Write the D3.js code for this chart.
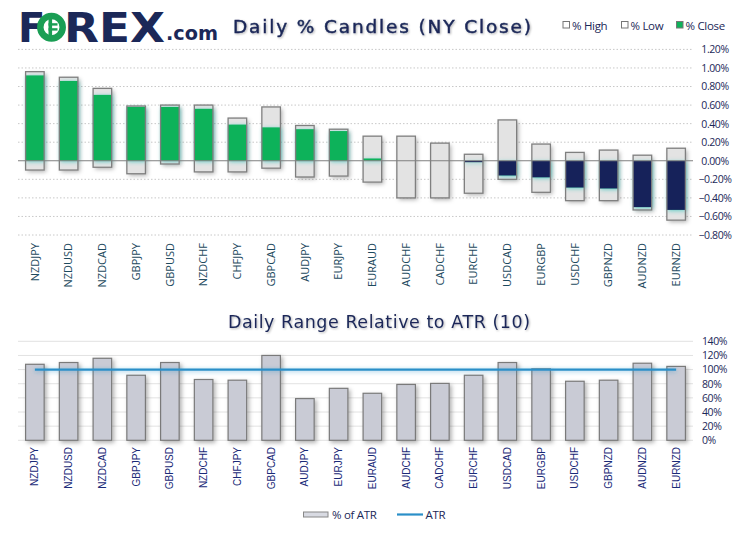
<!DOCTYPE html>
<html><head><meta charset="utf-8">
<script src="https://cdn.jsdelivr.net/npm/d3@7"></script>
<style>body{margin:0;background:#fff}svg{display:block}</style>
</head><body><svg id="c" width="749" height="534"></svg>
<script>
const categories = ["NZDJPY","NZDUSD","NZDCAD","GBPJPY","GBPUSD","NZDCHF","CHFJPY","GBPCAD","AUDJPY","EURJPY","EURAUD","AUDCHF","CADCHF","EURCHF","USDCAD","EURGBP","USDCHF","GBPNZD","AUDNZD","EURNZD"];
const highPct  = [0.96,0.90,0.78,0.59,0.60,0.60,0.46,0.58,0.38,0.34,0.265,0.265,0.19,0.07,0.44,0.18,0.09,0.115,0.06,0.135];
const lowPct   = [-0.10,-0.10,-0.07,-0.14,-0.035,-0.12,-0.12,-0.08,-0.175,-0.165,-0.23,-0.40,-0.40,-0.35,-0.20,-0.34,-0.43,-0.43,-0.53,-0.64];
const closePct = [0.92,0.86,0.71,0.58,0.58,0.56,0.39,0.36,0.34,0.32,0.025,0,0,-0.015,-0.16,-0.18,-0.29,-0.30,-0.50,-0.53];
const atrPct   = [107.5,110,116,92,110,86,85,120,59,73.5,66.5,79,80.5,92,110,101,83.5,85,109,104.5];
const atrLine  = [100,100,100,100,100,100,100,100,100,100,100,100,100,100,100,100,100,100,100,100];
const topTicks = [1.2,1.0,0.8,0.6,0.4,0.2,0,-0.2,-0.4,-0.6,-0.8];
const botTicks = [140,120,100,80,60,40,20,0];

const NAVY="#1b2858", GREEN="#0fb25a", DNAVY="#13205a";
const svg=d3.select("#c");
const defs=svg.append("defs");
const f1=defs.append("filter").attr("id","sh").attr("x","-50%").attr("y","-50%").attr("width","200%").attr("height","200%");
f1.append("feDropShadow").attr("dx",2).attr("dy",2).attr("stdDeviation",2).attr("flood-color","#000").attr("flood-opacity",0.3);
const f2=defs.append("filter").attr("id","glow").attr("filterUnits","userSpaceOnUse").attr("x",0).attr("y",0).attr("width",749).attr("height",534);
f2.append("feDropShadow").attr("dx",1).attr("dy",1).attr("stdDeviation",2.2).attr("flood-color","#3cc8c0").attr("flood-opacity",0.75);
const f3=defs.append("filter").attr("id","tsh").attr("x","-10%").attr("y","-30%").attr("width","120%").attr("height","160%");
f3.append("feDropShadow").attr("dx",1).attr("dy",1).attr("stdDeviation",0.8).attr("flood-color","#000").attr("flood-opacity",0.3);
const f4=defs.append("filter").attr("id","lglow").attr("filterUnits","userSpaceOnUse").attr("x",0).attr("y",0).attr("width",749).attr("height",534);
f4.append("feDropShadow").attr("dx",0).attr("dy",1).attr("stdDeviation",2).attr("flood-color","#2a8fc8").attr("flood-opacity",0.5);

// Logo
const lg=svg.append("g");
lg.append("text").attr("x",18).attr("y",41.5).attr("font-family","DejaVu Sans").attr("font-weight","bold").attr("font-size",40).attr("fill",NAVY).text("F");
lg.append("circle").attr("cx",51.5).attr("cy",27.2).attr("r",11.2).attr("fill","none").attr("stroke","#1a9e54").attr("stroke-width",6.5);
lg.append("rect").attr("x",48.5).attr("y",18.5).attr("width",3.6).attr("height",17.5).attr("fill","#1a9e54");
lg.append("rect").attr("x",48.5).attr("y",23.2).attr("width",9).attr("height",2.4).attr("fill","#1a9e54");
lg.append("rect").attr("x",48.5).attr("y",28.2).attr("width",9).attr("height",2.4).attr("fill","#1a9e54");
lg.append("text").attr("x",64).attr("y",41.5).attr("font-family","DejaVu Sans").attr("font-weight","bold").attr("font-size",40).attr("fill",NAVY).attr("textLength",101).attr("lengthAdjust","spacingAndGlyphs").text("REX");
lg.append("text").attr("x",166).attr("y",40).attr("font-family","DejaVu Sans").attr("font-weight","bold").attr("font-size",19).attr("fill",NAVY).attr("textLength",52).attr("lengthAdjust","spacingAndGlyphs").text(".com");

// Titles
svg.append("text").attr("x",233).attr("y",33).attr("font-family","DejaVu Sans").attr("font-size",18.5).attr("fill",NAVY).attr("stroke",NAVY).attr("stroke-width",0.45).attr("filter","url(#tsh)").attr("textLength",298).text("Daily % Candles (NY Close)");
svg.append("text").attr("x",228).attr("y",328).attr("font-family","DejaVu Sans").attr("font-size",17.5).attr("fill",NAVY).attr("filter","url(#tsh)").attr("textLength",302).text("Daily Range Relative to ATR (10)");

// Top legend
const tl=svg.append("g").attr("font-family","Open Sans").attr("font-size",11.5).attr("fill",NAVY).attr("letter-spacing",-0.3);
[[563,"#fff","% High",572],[621.5,"#fff","% Low",630.5],[676.5,GREEN,"% Close",685.5]].forEach(d=>{
  tl.append("rect").attr("x",d[0]).attr("y",21.5).attr("width",6.5).attr("height",6.5).attr("fill",d[1]).attr("stroke","#777").attr("stroke-width",1);
  tl.append("text").attr("x",d[3]).attr("y",29.5).text(d[2]);
});

// Top chart
const x=d3.scaleBand().domain(categories).range([18,693]).paddingInner(0.45).paddingOuter(0.225);
const y=d3.scaleLinear().domain([-0.8,1.2]).range([235,49.4]);
const topG=svg.append("g");
topG.selectAll(".g").data(topTicks.filter(t=>t!==0)).join("line").attr("x1",18).attr("x2",693)
  .attr("y1",d=>y(d)).attr("y2",d=>y(d)).attr("stroke","#c8c8c8").attr("stroke-dasharray","1.5,2");
const yAx=d3.axisRight(y).tickValues(topTicks).tickSize(0).tickFormat(d=>d3.format(".2f")(d)+"%");
const ya=topG.append("g").attr("transform","translate(715,0)").call(yAx);
ya.select(".domain").remove();
ya.selectAll("text").attr("x",0).attr("text-anchor","middle").attr("font-family","Open Sans").attr("font-size",10.5).attr("letter-spacing",-0.4).attr("fill",NAVY);

const bw=x.bandwidth();
const idx=categories.map((c,i)=>i);
topG.selectAll(".box").data(idx).join("rect").attr("x",i=>x(categories[i])).attr("width",bw)
  .attr("y",i=>y(highPct[i])).attr("height",i=>y(lowPct[i])-y(highPct[i]))
  .attr("fill","#e3e3e3").attr("filter","url(#sh)");
topG.selectAll(".cl").data(idx.filter(i=>closePct[i]!==0)).join("rect").attr("x",i=>x(categories[i])).attr("width",bw)
  .attr("y",i=>y(Math.max(0,closePct[i]))).attr("height",i=>Math.max(1.5,Math.abs(y(closePct[i])-y(0))))
  .attr("fill",i=>closePct[i]>0?GREEN:DNAVY).attr("filter","url(#glow)");
topG.selectAll(".bo").data(idx).join("rect").attr("x",i=>x(categories[i])).attr("width",bw)
  .attr("y",i=>y(highPct[i])).attr("height",i=>y(lowPct[i])-y(highPct[i]))
  .attr("fill","none").attr("stroke","#7f7f7f").attr("stroke-width",1.3);
topG.append("line").attr("x1",18).attr("x2",693).attr("y1",y(0)).attr("y2",y(0)).attr("stroke","#7f7f7f").attr("stroke-width",1.2);
const xa=topG.append("g").attr("transform","translate(0,243)").call(d3.axisBottom(x).tickSize(0));
xa.select(".domain").remove();
xa.selectAll("text").attr("transform","rotate(-90)").attr("x",0).attr("y",0).attr("dy","0.35em").attr("text-anchor","end")
  .attr("font-family","Open Sans").attr("font-size",11).attr("fill","#1d4a5e");

// Bottom chart
const y2=d3.scaleLinear().domain([0,140]).range([440.3,341.3]);
const bot=svg.append("g");
bot.selectAll(".g2").data(botTicks).join("line").attr("x1",18).attr("x2",693)
  .attr("y1",d=>y2(d)).attr("y2",d=>y2(d)).attr("stroke","#e2e2e2").attr("stroke-width",1);
const ya2=bot.append("g").attr("transform","translate(702,0)").call(d3.axisRight(y2).tickValues(botTicks).tickSize(0).tickFormat(d=>d+"%"));
ya2.select(".domain").remove();
ya2.selectAll("text").attr("x",0).attr("font-family","Open Sans").attr("font-size",10.5).attr("letter-spacing",-0.4).attr("fill",NAVY);
bot.selectAll(".b2").data(idx).join("rect").attr("x",i=>x(categories[i])).attr("width",bw)
  .attr("y",i=>y2(atrPct[i])).attr("height",i=>y2(0)-y2(atrPct[i]))
  .attr("fill","#c9cbd5").attr("stroke","#7a7a7a").attr("stroke-width",1.2).attr("filter","url(#sh)");
const ln=d3.line().x((d,i)=>x(categories[i])+bw/2).y(d=>y2(d));
bot.append("path").datum(atrLine).attr("d",ln).attr("fill","none").attr("stroke","#2a8fc8").attr("stroke-width",2.4).attr("filter","url(#lglow)");
const xa2=bot.append("g").attr("transform","translate(0,447)").call(d3.axisBottom(x).tickSize(0));
xa2.select(".domain").remove();
xa2.selectAll("text").attr("transform","rotate(-90)").attr("x",0).attr("y",0).attr("dy","0.35em").attr("text-anchor","end")
  .attr("font-family","Liberation Sans").attr("font-size",10).attr("fill","#1a2a78");

// Bottom legend
const bl=svg.append("g").attr("font-family","Open Sans").attr("font-size",11.5).attr("fill",NAVY).attr("letter-spacing",-0.3);
bl.append("rect").attr("x",303.5).attr("y",512).attr("width",24.5).attr("height",5).attr("fill","#d8dae2").attr("stroke","#888").attr("stroke-width",1);
bl.append("text").attr("x",332).attr("y",519).text("% of ATR");
bl.append("line").attr("x1",397).attr("x2",423).attr("y1",514.5).attr("y2",514.5).attr("stroke","#2a8fc8").attr("stroke-width",2.2);
bl.append("text").attr("x",425.5).attr("y",519).text("ATR");
</script></body></html>
